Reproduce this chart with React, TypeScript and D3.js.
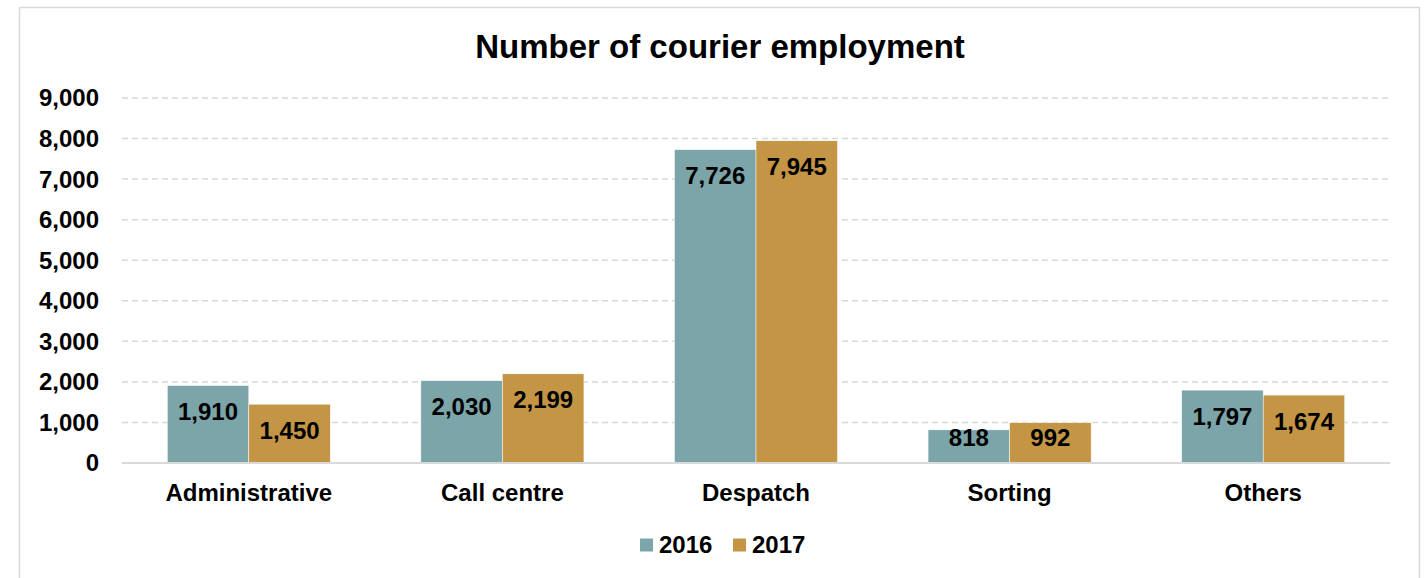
import React, { useEffect, useRef } from "react";
import * as d3 from "d3";

const categories = ["Administrative", "Call centre", "Despatch", "Sorting", "Others"];
const years = ["2016", "2017"];
const values2016 = [1910, 2030, 7726, 818, 1797];
const values2017 = [1450, 2199, 7945, 992, 1674];
const yTicks = [0, 1000, 2000, 3000, 4000, 5000, 6000, 7000, 8000, 9000];
const colors = ["#7BA5A8", "#C39544"];

const FONT = "'Liberation Sans', Arial, sans-serif";

export default function App() {
  const svgRef = useRef<SVGSVGElement>(null);

  useEffect(() => {
    if (!svgRef.current) return;
    const svg = d3.select(svgRef.current);
    svg.selectAll("*").remove();

    const width = 1427;
    const height = 578;
    const plot = { left: 122, right: 1390, top: 98, bottom: 463 };

    // Chart frame
    svg.append("rect")
      .attr("x", 19.5)
      .attr("y", 7.5)
      .attr("width", 1400)
      .attr("height", 600)
      .attr("fill", "#fff")
      .attr("stroke", "#d9d9d9")
      .attr("stroke-width", 1.5);

    // Scales
    const x = d3.scaleBand<string>()
      .domain(categories)
      .range([plot.left, plot.right])
      .paddingInner(0.357)
      .paddingOuter(0.1785);

    const xInner = d3.scaleBand<string>()
      .domain(years)
      .range([0, x.bandwidth()]);

    const y = d3.scaleLinear()
      .domain([0, 9000])
      .range([plot.bottom, plot.top]);

    // Gridlines
    svg.append("g")
      .selectAll("line")
      .data(yTicks.filter((t) => t > 0))
      .join("line")
      .attr("x1", plot.left)
      .attr("x2", plot.right)
      .attr("y1", (d) => y(d))
      .attr("y2", (d) => y(d))
      .attr("stroke", "#d9d9d9")
      .attr("stroke-width", 1.5)
      .attr("stroke-dasharray", "6,4");

    // Y tick labels
    svg.append("g")
      .selectAll("text")
      .data(yTicks)
      .join("text")
      .attr("x", 99)
      .attr("y", (d) => y(d))
      .attr("dy", "0.35em")
      .attr("text-anchor", "end")
      .style("font-family", FONT)
      .style("font-size", "24px")
      .style("font-weight", "bold")
      .attr("fill", "#000")
      .text((d) => d3.format(",")(d));

    // Bars
    const series = [values2016, values2017];
    series.forEach((vals, si) => {
      const g = svg.append("g");
      g.selectAll("rect")
        .data(vals)
        .join("rect")
        .attr("x", (_, i) => (x(categories[i]) ?? 0) + (xInner(years[si]) ?? 0))
        .attr("y", (d) => y(d))
        .attr("width", xInner.bandwidth())
        .attr("height", (d) => y(0) - y(d))
        .attr("fill", colors[si])
        .attr("stroke", "#fff")
        .attr("stroke-width", 0.5);

      // Value labels, inside end (clamped to fit in short bars)
      g.selectAll("text")
        .data(vals)
        .join("text")
        .attr("x", (_, i) => (x(categories[i]) ?? 0) + (xInner(years[si]) ?? 0) + xInner.bandwidth() / 2)
        .attr("y", (d) => Math.min(y(d) + 26, y(0) - 25))
        .attr("dy", "0.35em")
        .attr("text-anchor", "middle")
        .style("font-family", FONT)
        .style("font-size", "24px")
        .style("font-weight", "bold")
        .attr("fill", "#000")
        .text((d) => d3.format(",")(d));
    });

    // Baseline
    svg.append("line")
      .attr("x1", plot.left)
      .attr("x2", plot.right)
      .attr("y1", y(0))
      .attr("y2", y(0))
      .attr("stroke", "#d9d9d9")
      .attr("stroke-width", 2);

    // Category labels
    svg.append("g")
      .selectAll("text")
      .data(categories)
      .join("text")
      .attr("x", (d) => (x(d) ?? 0) + x.bandwidth() / 2)
      .attr("y", 493)
      .attr("dy", "0.35em")
      .attr("text-anchor", "middle")
      .style("font-family", FONT)
      .style("font-size", "24px")
      .style("font-weight", "bold")
      .attr("fill", "#000")
      .text((d) => d);

    // Title
    svg.append("text")
      .attr("x", 720)
      .attr("y", 46)
      .attr("dy", "0.35em")
      .attr("text-anchor", "middle")
      .style("font-family", FONT)
      .style("font-size", "33px")
      .style("font-weight", "bold")
      .attr("fill", "#000")
      .text("Number of courier employment");

    // Legend
    const legend = svg.append("g").attr("transform", "translate(640, 545)");
    years.forEach((yr, i) => {
      const lx = i * 93;
      legend.append("rect")
        .attr("x", lx)
        .attr("y", -6.5)
        .attr("width", 13)
        .attr("height", 13)
        .attr("fill", colors[i]);
      legend.append("text")
        .attr("x", lx + 19)
        .attr("y", 0)
        .attr("dy", "0.35em")
        .style("font-family", FONT)
        .style("font-size", "24px")
        .style("font-weight", "bold")
        .attr("fill", "#000")
        .text(yr);
    });

    svg.attr("width", width).attr("height", height);
  }, []);

  return (
    <svg
      ref={svgRef}
      width={1427}
      height={578}
      style={{ position: "absolute", left: 0, top: 0, display: "block", background: "#fff" }}
    />
  );
}
